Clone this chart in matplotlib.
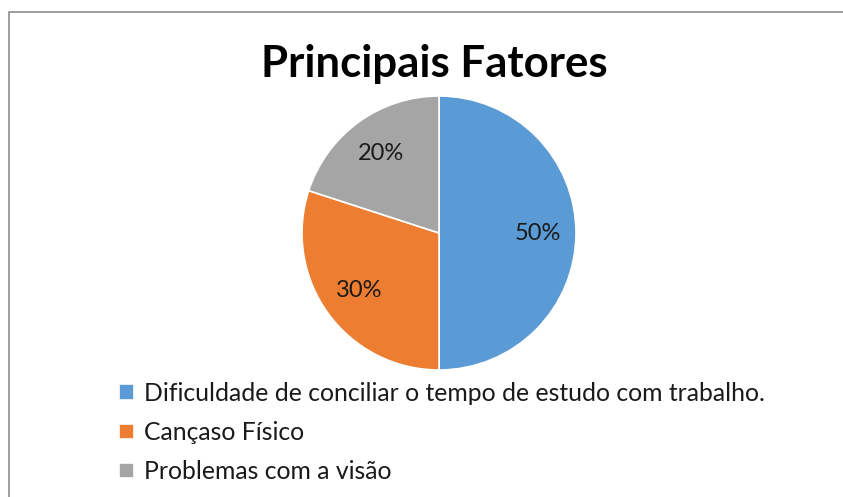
import matplotlib
matplotlib.use("Agg")
import matplotlib.pyplot as plt
from matplotlib.lines import Line2D

labels = ["Dificuldade de conciliar o tempo de estudo com trabalho.",
          "Cançaso Físico",
          "Problemas com a visão"]
values = [50, 30, 20]
colors = ["#5B9BD5", "#ED7D31", "#A5A5A5"]

plt.rcParams["font.family"] = ["Lato", "DejaVu Sans"]

fig = plt.figure(figsize=(8.43, 4.97), dpi=100)
W, H = 843, 497

# chart frame: only its top and left edges fall inside the picture
fig.lines.append(Line2D([9 / W, 9 / W, 1], [0, 1 - 12 / H, 1 - 12 / H],
                        transform=fig.transFigure, color="#8c8c8c",
                        linewidth=1.2))

fig.text(434 / W, 1 - 64 / H, "Principais Fatores", ha="center", va="center",
         fontsize=31.5, fontweight="bold")

cx, cy, r = 439, 233, 137
ax = fig.add_axes([(cx - r) / W, 1 - (cy + r) / H, 2 * r / W, 2 * r / H])
wedges, texts, autotexts = ax.pie(values, colors=colors, startangle=90,
                                  counterclock=False, autopct="%d%%",
                                  pctdistance=0.72,
                                  wedgeprops=dict(edgecolor="white", linewidth=1.2),
                                  textprops=dict(fontsize=17, color="#1a1a1a"))
ax.set_aspect("equal")
ax.set_xlim(-1, 1)
ax.set_ylim(-1, 1)
ax.axis("off")

leg = fig.legend(wedges, labels, loc="upper left",
                 bbox_to_anchor=(119 / W, 1 - 382 / H), frameon=False,
                 fontsize=17.8, handlelength=0.6, handleheight=0.6,
                 handletextpad=0.4, labelspacing=0.65, borderpad=0,
                 borderaxespad=0)
for t in leg.get_texts():
    t.set_color("#1a1a1a")

fig.savefig("out.png", dpi=100)
